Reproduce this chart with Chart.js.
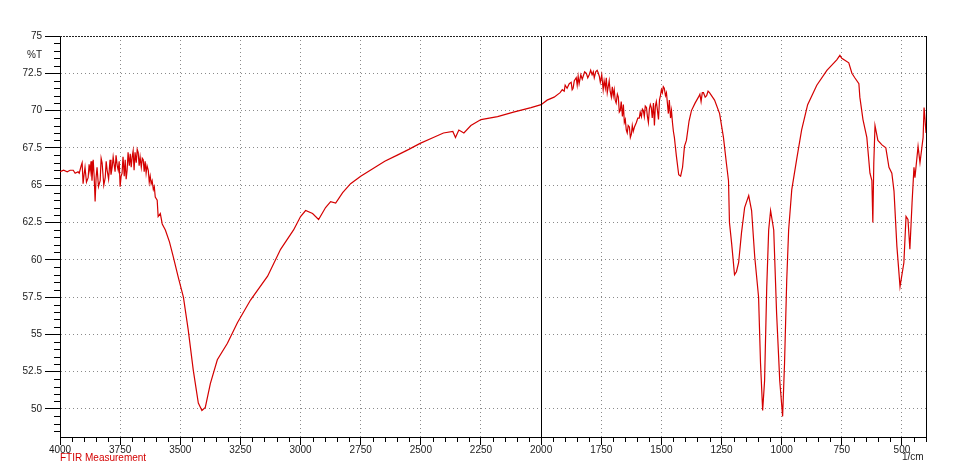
<!DOCTYPE html>
<html>
<head>
<meta charset="utf-8">
<script src="https://cdn.jsdelivr.net/npm/chart.js@4.4.1/dist/chart.umd.min.js"></script>
<style>
html, body { margin: 0; padding: 0; background: #fff; }
canvas { display: block; }
</style>
</head>
<body>
<canvas id="ftirChart" width="958" height="474"></canvas>
<script>
// ---------------------------------
// FTIR scan
// ---------------------------------
const waveNumbers = [
    4000, 3985, 3970, 3958, 3945, 3937, 3925, 3920, 3912, 3908,
    3904, 3900, 3896, 3890, 3883, 3879, 3875, 3871, 3867, 3862,
    3858, 3854, 3850, 3846, 3840, 3833, 3829, 3825, 3818, 3812,
    3808, 3804, 3798, 3792, 3788, 3783, 3779, 3771, 3767, 3762,
    3758, 3754, 3750, 3746, 3742, 3738, 3733, 3729, 3725, 3721,
    3717, 3712, 3708, 3704, 3700, 3696, 3692, 3688, 3683, 3679,
    3675, 3671, 3667, 3662, 3658, 3654, 3650, 3646, 3642, 3638,
    3633, 3629, 3625, 3621, 3617, 3612, 3608, 3604, 3596, 3592,
    3583, 3575, 3562, 3545, 3529, 3508, 3487, 3467, 3446, 3425,
    3410, 3396, 3375, 3346, 3304, 3262, 3208, 3137, 3083, 3029,
    3000, 2979, 2950, 2925, 2896, 2875, 2854, 2825, 2792, 2750,
    2700, 2650, 2600, 2550, 2503, 2448, 2406, 2367, 2356, 2342,
    2321, 2292, 2250, 2181, 2115, 2042, 2000, 1975, 1946, 1921,
    1912, 1904, 1900, 1892, 1883, 1875, 1871, 1867, 1862, 1854,
    1850, 1846, 1842, 1835, 1829, 1825, 1819, 1812, 1806, 1800,
    1794, 1788, 1783, 1779, 1773, 1767, 1762, 1758, 1754, 1748,
    1742, 1738, 1733, 1729, 1725, 1721, 1717, 1713, 1708, 1704,
    1700, 1696, 1692, 1688, 1683, 1679, 1675, 1671, 1667, 1662,
    1658, 1654, 1650, 1646, 1642, 1638, 1633, 1629, 1625, 1621,
    1617, 1612, 1604, 1598, 1592, 1588, 1583, 1579, 1575, 1571,
    1567, 1562, 1558, 1554, 1550, 1546, 1542, 1538, 1533, 1529,
    1525, 1521, 1517, 1512, 1508, 1504, 1500, 1496, 1492, 1488,
    1483, 1479, 1475, 1471, 1467, 1462, 1458, 1454, 1450, 1446,
    1438, 1428, 1420, 1412, 1404, 1396, 1385, 1375, 1360, 1346,
    1340, 1335, 1330, 1325, 1318, 1312, 1306, 1300, 1279, 1258,
    1242, 1230, 1221, 1217, 1208, 1196, 1188, 1179, 1167, 1154,
    1137, 1125, 1112, 1096, 1088, 1079, 1071, 1062, 1054, 1046,
    1033, 1021, 1008, 996, 988, 979, 971, 958, 938, 917,
    892, 854, 812, 771, 758, 750, 721, 708, 696, 679,
    675, 662, 646, 633, 625, 621, 617, 612, 600, 583,
    567, 554, 542, 533, 521, 508, 492, 483, 475, 467,
    458, 450, 446, 433, 425, 412, 408, 404, 400
];
const transmittance = [
    65.9, 66.0, 65.9, 66.0, 66.0, 65.8, 65.9, 65.8, 66.3, 66.5,
    65.1, 65.7, 66.2, 65.2, 65.5, 66.4, 65.9, 66.6, 65.3, 66.7,
    65.6, 63.9, 65.5, 66.2, 64.9, 65.3, 66.8, 66.5, 65.0, 65.5,
    66.6, 66.0, 65.4, 66.7, 65.7, 66.2, 66.9, 65.9, 67.0, 66.3,
    66.0, 66.6, 64.9, 65.6, 65.8, 66.9, 65.6, 66.7, 65.4, 66.0,
    67.2, 66.3, 67.1, 66.2, 66.9, 67.3, 66.0, 67.2, 66.5, 67.4,
    67.2, 66.3, 66.9, 66.2, 66.8, 66.7, 65.9, 66.6, 65.8, 66.3,
    66.0, 65.2, 65.6, 65.1, 65.3, 64.7, 64.9, 64.2, 64.0, 62.9,
    63.1, 62.4, 62.0, 61.2, 60.2, 58.8, 57.5, 55.3, 52.6, 50.4,
    49.9, 50.1, 51.7, 53.3, 54.4, 55.8, 57.3, 58.9, 60.7, 62.0,
    62.9, 63.3, 63.1, 62.7, 63.5, 63.9, 63.8, 64.5, 65.1, 65.6,
    66.1, 66.6, 67.0, 67.4, 67.8, 68.2, 68.5, 68.6, 68.2, 68.7,
    68.5, 69.0, 69.4, 69.6, 69.9, 70.2, 70.4, 70.7, 70.9, 71.2,
    71.4, 71.3, 71.7, 71.5, 71.8, 71.9, 71.4, 71.5, 72.0, 72.2,
    71.7, 72.3, 71.8, 72.4, 72.1, 72.3, 72.6, 72.5, 72.2, 72.4,
    72.7, 72.4, 72.6, 72.2, 72.6, 72.7, 72.5, 72.3, 71.9, 72.4,
    71.4, 72.0, 71.5, 72.2, 71.2, 71.6, 72.0, 71.3, 70.9, 71.6,
    71.0, 71.4, 70.7, 70.5, 71.1, 70.9, 69.9, 70.0, 70.6, 69.6,
    70.4, 69.2, 69.4, 68.7, 68.5, 69.0, 68.9, 68.2, 68.4, 69.0,
    68.6, 68.9, 69.2, 69.5, 69.5, 69.9, 69.6, 70.1, 70.0, 69.6,
    70.3, 70.2, 69.6, 69.2, 70.1, 70.4, 70.2, 69.5, 70.5, 69.0,
    70.3, 70.6, 70.1, 69.4, 70.7, 71.0, 71.4, 71.2, 71.6, 71.5,
    71.0, 71.2, 70.5, 69.8, 70.7, 69.5, 70.0, 69.2, 68.6, 68.2,
    67.0, 65.7, 65.6, 66.2, 67.6, 68.0, 69.3, 70.0, 70.5, 70.9,
    71.1, 70.6, 71.2, 71.2, 70.9, 71.0, 71.3, 71.2, 70.7, 69.8,
    68.2, 66.5, 65.3, 62.5, 61.1, 59.0, 59.2, 59.8, 61.8, 63.5,
    64.3, 63.3, 60.2, 57.5, 53.1, 49.9, 51.9, 58.2, 62.0, 63.3,
    62.0, 56.4, 51.9, 49.5, 53.1, 58.6, 62.0, 64.7, 66.7, 68.7,
    70.4, 71.7, 72.7, 73.4, 73.7, 73.5, 73.2, 72.5, 72.2, 71.8,
    70.9, 69.4, 68.2, 65.8, 65.3, 62.5, 66.5, 69.0, 68.0, 67.7,
    67.5, 66.2, 65.8, 64.6, 60.9, 58.2, 59.8, 62.9, 62.7, 60.7,
    63.8, 66.2, 65.5, 67.6, 66.5, 68.2, 70.2, 69.4, 68.5
];

const xTickValues = [4000, 3750, 3500, 3250, 3000, 2750, 2500, 2250, 2000, 1750, 1500, 1250, 1000, 750, 500];
const yTickValues = [50, 52.5, 55, 57.5, 60, 62.5, 65, 67.5, 70, 72.5, 75];

const FONT = 'Liberation Sans, Arial, sans-serif';
const TEXT = '#1a1a1a';
const RED = '#d40000';

// minor ticks, top frame line, right frame, the 2000 marker and the captions
const axisExtras = {
    id: 'axisExtras',
    afterDraw(chart) {
        const ctx = chart.ctx;
        const area = chart.chartArea;
        const xs = chart.scales.x;
        const ys = chart.scales.y;
        ctx.save();
        ctx.strokeStyle = '#000';
        ctx.lineWidth = 1;
        ctx.beginPath();
        for (let v = 400; v < 4000; v += 50) {
            if (v % 250 === 0) continue;
            const px = Math.round(xs.getPixelForValue(v)) + 0.5;
            ctx.moveTo(px, area.bottom);
            ctx.lineTo(px, area.bottom + 5);
        }
        for (let v = 48.5; v < 75; v += 0.5) {
            if (Math.abs(v / 2.5 - Math.round(v / 2.5)) < 1e-6) continue;
            const py = Math.round(ys.getPixelForValue(v)) + 0.5;
            ctx.moveTo(area.left - 6, py);
            ctx.lineTo(area.left, py);
        }
        // right frame
        const rx = Math.round(area.right) + 0.5;
        ctx.moveTo(rx, area.top);
        ctx.lineTo(rx, area.bottom + 5);
        // 2000 marker
        const mx = Math.round(xs.getPixelForValue(2000)) + 0.5;
        ctx.moveTo(mx, area.top);
        ctx.lineTo(mx, area.bottom);
        ctx.stroke();

        // top frame line at 75, dense dots
        const ty = Math.round(ys.getPixelForValue(75)) + 0.5;
        ctx.setLineDash([2, 1]);
        ctx.strokeStyle = '#222';
        ctx.beginPath();
        ctx.moveTo(area.left, ty);
        ctx.lineTo(area.right, ty);
        ctx.stroke();
        ctx.setLineDash([]);

        ctx.font = '10px ' + FONT;
        ctx.fillStyle = TEXT;
        ctx.textBaseline = 'middle';
        ctx.textAlign = 'right';
        ctx.fillText('%T', 42, 55);
        ctx.textAlign = 'left';
        ctx.fillText('1/cm', 902, 457);
        ctx.fillStyle = RED;
        ctx.fillText('FTIR Measurement', 60, 458);
        ctx.restore();
    }
};

const points = waveNumbers.map((w, i) => ({ x: w, y: transmittance[i] }));

new Chart(document.getElementById('ftirChart').getContext('2d'), {
    type: 'line',
    data: {
        datasets: [{
            label: 'FTIR Measurement',
            data: points,
            borderColor: RED,
            borderWidth: 1.2,
            pointRadius: 0,
            tension: 0,
            fill: false
        }]
    },
    options: {
        responsive: false,
        animation: false,
        devicePixelRatio: 1,
        layout: { padding: { left: 0, right: 32, top: 36, bottom: 0 } },
        plugins: { legend: { display: false }, tooltip: { enabled: false } },
        scales: {
            x: {
                type: 'linear',
                reverse: true,
                min: 400,
                max: 4000,
                afterBuildTicks: (s) => { s.ticks = xTickValues.map(v => ({ value: v })); },
                afterFit: (s) => { s.height = 37; },
                ticks: {
                    autoSkip: false,
                    maxRotation: 0,
                    padding: -1,
                    color: TEXT,
                    font: { family: FONT, size: 10 },
                    callback: (v) => String(v)
                },
                grid: {
                    color: (c) => (c.tick && (c.tick.value === 4000 || c.tick.value === 2000)) ? 'rgba(0,0,0,0)' : '#8a8a8a',
                    tickColor: '#000',
                    tickLength: 8
                },
                border: { display: true, color: '#000', width: 1, dash: [1, 3] }
            },
            y: {
                type: 'linear',
                min: 48.12,
                max: 75,
                afterBuildTicks: (s) => { s.ticks = yTickValues.map(v => ({ value: v })); },
                afterFit: (s) => { s.width = 60; },
                ticks: {
                    padding: 3,
                    color: TEXT,
                    font: { family: FONT, size: 10 },
                    callback: (v) => String(v)
                },
                grid: {
                    color: (c) => (c.tick && c.tick.value === 75) ? 'rgba(0,0,0,0)' : '#8a8a8a',
                    tickColor: '#000',
                    tickLength: 15
                },
                border: { display: true, color: '#000', width: 1, dash: [1, 3] }
            }
        }
    },
    plugins: [axisExtras]
});
</script>
</body>
</html>
